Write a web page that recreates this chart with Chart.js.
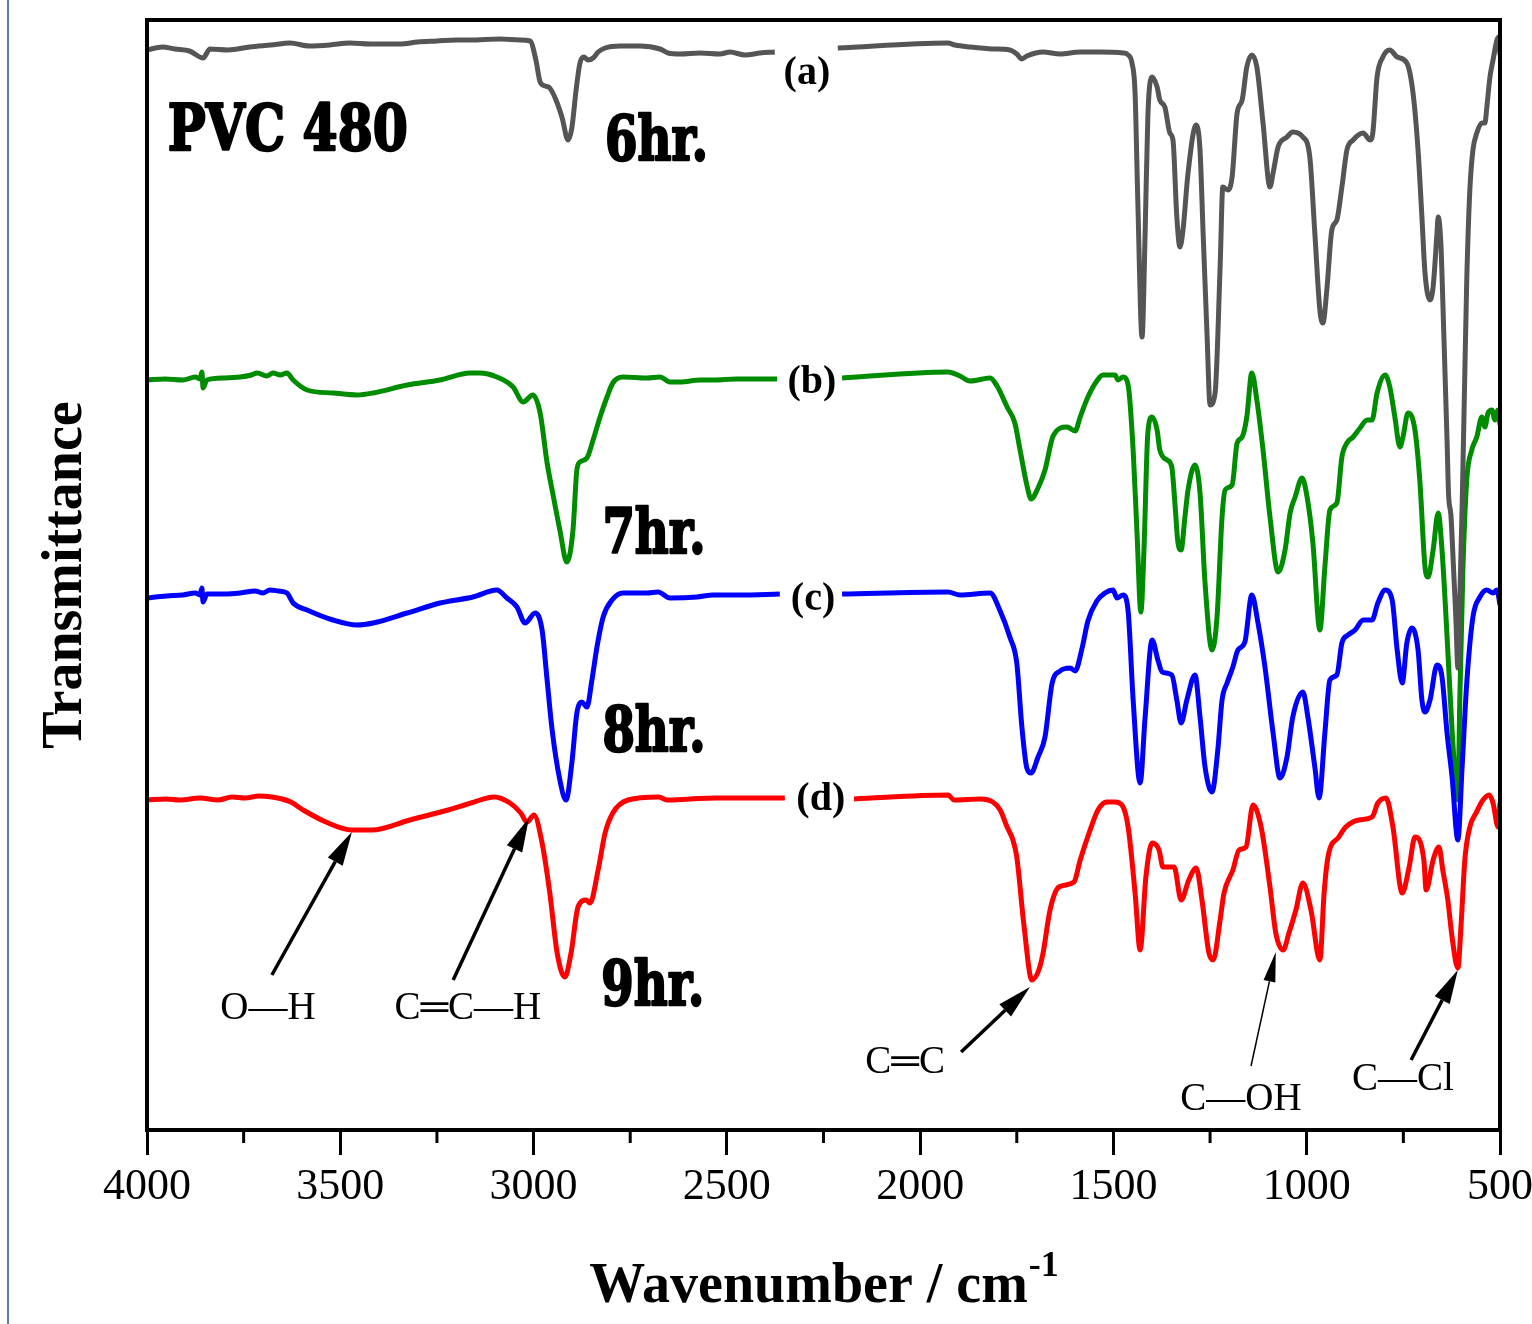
<!DOCTYPE html>
<html>
<head>
<meta charset="utf-8">
<title>PVC 480 FTIR</title>
<script src="https://cdn.jsdelivr.net/npm/chart.js@4.4.1/dist/chart.umd.min.js"></script>
<style>
    html, body
    {
        margin: 0;
        padding: 0;
        background: #ffffff;
    }

    #wrap
    {
        position: relative;
        width: 1532px;
        height: 1324px;
    }

    #edge
    {
        position: absolute;
        left: 7px;
        top: 0;
        width: 2px;
        height: 1324px;
        background: #5a7db3;
    }
</style>
</head>
<body>
<div id="wrap">
    <div id="edge"></div>
    <canvas id="ftir"></canvas>
</div>
<script>
// wavenumber (cm-1), transmittance (a.u., curves offset for display)
const spectrum6hr = [
    [4000,108.0],[3960,108.3],[3928,108.1],[3890,107.9],[3855,107.2],[3837,108.1],[3790,108.0],[3734,108.3],
    [3680,108.5],[3630,108.7],[3580,108.4],[3527,108.5],[3475,108.7],[3423,108.6],[3346,108.6],[3300,108.8],
    [3250,108.9],[3200,109.0],[3164,109.0],[3087,109.1],[3035,109.0],[3009,108.9],[2994,107.0],[2983,104.8],
    [2970,104.4],[2958,104.2],[2942,103.0],[2926,101.2],[2911,99.0],[2901,100.2],[2890,104.0],[2880,106.7],
    [2870,107.3],[2859,107.0],[2846,107.2],[2833,107.8],[2815,108.2],[2776,108.4],[2725,108.4],[2673,108.1],
    [2652,107.7],[2621,107.6],[2569,107.7],[2518,107.6],[2492,107.8],[2453,107.5],[2414,107.7],[2376,107.8],
    [2290,null],
    [2213,108.2],[1928,108.7],[1910,108.5],[1871,108.3],[1812,108.1],[1768,108.0],[1750,107.6],[1737,107.1],
    [1724,107.4],[1682,107.8],[1638,107.6],[1586,107.8],[1535,107.8],[1475,107.7],[1462,107.5],[1452,106.7],
    [1444,103.7],[1437,93.0],[1426,79.3],[1418,89.7],[1411,101.3],[1400,105.3],[1387,104.3],[1380,103.0],
    [1367,102.3],[1354,99.7],[1346,99.0],[1336,91.3],[1328,88.3],[1320,90.0],[1307,95.7],[1286,100.5],
    [1276,98.0],[1268,89.7],[1258,79.7],[1250,72.5],[1237,73.7],[1224,86.3],[1217,94.3],[1204,94.0],
    [1193,95.3],[1180,101.7],[1167,103.0],[1155,106.3],[1142,107.5],[1129,106.3],[1113,100.7],[1095,94.3],
    [1087,95.7],[1074,98.3],[1051,99.3],[1036,99.8],[1010,99.3],[992,97.3],[979,89.7],[966,82.0],
    [958,80.7],[948,84.0],[935,90.0],[922,91.0],[909,94.3],[896,98.0],[880,99.0],[854,99.7],
    [836,99.0],[829,99.7],[818,105.3],[803,107.3],[785,108.0],[766,107.3],[741,106.7],[725,103.7],
    [712,98.0],[702,91.3],[694,85.7],[681,83.0],[673,84.3],[663,89.7],[660,91.3],[653,88.7],
    [648,83.0],[637,69.0],[633,63.5],[627,61.5],[620,56.0],[614,51.0],[609,46.2],[604,53.0],
    [598,62.3],[591,75.7],[586,85.0],[578,94.0],[570,98.0],[560,99.7],[547,100.7],[539,100.7],
    [534,102.3],[526,105.3],[518,107.0],[508,109.0],[503,109.3],[500,107.5]
];

const spectrum7hr = [
    [4000,75.0],[3953,75.1],[3907,75.0],[3875,75.3],[3863,75.1],[3858,75.8],[3855,74.2],[3845,75.0],
    [3800,75.2],[3759,75.3],[3730,75.5],[3715,75.7],[3690,75.4],[3674,75.7],[3655,75.5],[3638,75.7],
    [3622,75.0],[3586,74.0],[3519,73.7],[3457,73.5],[3415,73.7],[3327,74.5],[3242,75.0],[3164,75.7],
    [3139,75.7],[3095,75.3],[3053,74.3],[3027,72.8],[3002,73.5],[2983,71.7],[2965,66.7],[2952,64.0],
    [2932,60.0],[2914,56.8],[2898,60.0],[2888,66.0],[2880,66.8],[2862,67.2],[2846,69.0],[2828,71.3],
    [2810,73.3],[2795,74.7],[2769,75.3],[2707,75.2],[2673,75.3],[2647,74.8],[2621,74.8],[2569,75.0],
    [2535,75.0],[2474,75.1],[2370,75.1],
    [2290,null],
    [2202,75.2],[1928,75.8],[1897,75.4],[1871,74.9],[1819,75.2],[1801,74.4],[1775,72.3],[1755,70.7],
    [1742,68.1],[1724,64.5],[1713,63.1],[1695,64.2],[1677,66.0],[1656,69.4],[1620,70.3],[1599,69.9],
    [1586,71.3],[1566,73.3],[1543,74.9],[1527,75.5],[1496,75.5],[1488,75.0],[1475,75.3],[1462,74.5],
    [1449,68.0],[1439,59.7],[1429,51.8],[1421,58.0],[1411,69.7],[1400,71.3],[1387,70.0],[1380,68.0],
    [1361,67.0],[1349,66.3],[1341,62.7],[1333,58.7],[1325,58.0],[1315,61.3],[1307,64.0],[1289,66.5],
    [1276,63.7],[1263,54.7],[1245,48.0],[1232,51.3],[1219,61.3],[1211,64.0],[1193,64.5],[1180,68.7],
    [1167,69.3],[1155,71.3],[1142,75.7],[1129,73.0],[1113,68.0],[1095,61.3],[1074,55.8],[1056,58.0],
    [1043,61.7],[1030,63.3],[1012,65.2],[999,63.3],[984,58.7],[966,50.0],[953,56.3],[940,62.0],
    [922,62.7],[909,67.3],[896,68.7],[880,69.3],[862,70.2],[844,71.0],[831,71.0],[818,73.7],
    [797,75.5],[785,74.3],[772,71.3],[759,68.3],[751,69.3],[738,71.7],[720,70.0],[707,64.7],
    [694,56.3],[686,55.3],[673,58.0],[660,61.7],[650,58.0],[637,49.4],[624,40.0],[609,33.0],
    [604,43.0],[596,56.0],[586,65.0],[573,68.0],[560,69.3],[547,71.3],[539,70.3],[531,71.7],
    [521,72.0],[513,71.0],[505,72.0],[500,70.5]
];

const spectrum8hr = [
    [4000,53.2],[3950,53.4],[3907,53.5],[3875,53.7],[3863,53.5],[3858,54.2],[3855,52.8],[3845,53.6],
    [3800,53.6],[3759,53.7],[3720,53.9],[3700,53.7],[3682,54.0],[3660,53.9],[3638,53.7],[3622,52.7],
    [3586,52.0],[3519,51.0],[3457,50.5],[3415,50.7],[3327,51.7],[3242,52.7],[3157,53.3],[3095,54.0],
    [3069,53.2],[3043,52.3],[3022,50.7],[2996,51.7],[2978,50.0],[2965,45.0],[2952,40.0],[2932,35.0],
    [2916,33.0],[2901,36.7],[2888,41.7],[2875,42.8],[2862,42.3],[2849,45.0],[2836,48.3],[2820,51.3],
    [2797,53.0],[2769,53.7],[2707,53.7],[2678,53.8],[2647,53.2],[2577,53.3],[2535,53.5],[2466,53.5],
    [2363,53.6],
    [2290,null],
    [2202,53.6],[1928,53.8],[1897,53.5],[1819,53.7],[1793,51.9],[1768,49.3],[1750,46.7],[1737,40.4],
    [1724,36.2],[1713,35.7],[1695,37.3],[1677,39.3],[1659,44.6],[1638,45.9],[1612,46.2],[1599,45.9],
    [1581,48.2],[1566,50.9],[1543,52.9],[1522,53.7],[1501,54.0],[1491,53.2],[1475,53.5],[1462,51.9],
    [1449,43.0],[1431,34.7],[1418,41.3],[1400,49.0],[1385,47.0],[1374,45.8],[1349,45.5],[1336,43.0],
    [1325,40.7],[1310,43.0],[1289,45.5],[1276,41.3],[1263,36.3],[1245,33.8],[1230,38.0],[1219,43.0],
    [1206,44.7],[1191,46.3],[1178,48.0],[1160,48.8],[1142,53.5],[1126,50.7],[1108,46.3],[1087,39.7],
    [1069,35.2],[1051,37.3],[1036,41.3],[1010,43.8],[997,41.3],[979,36.3],[968,33.2],[953,39.7],
    [940,45.0],[922,45.5],[909,48.7],[893,49.5],[875,50.0],[854,51.0],[831,51.0],[816,52.7],
    [797,54.0],[779,53.0],[766,48.0],[753,44.7],[741,48.7],[728,50.2],[712,48.0],[702,43.0],
    [694,41.8],[681,43.0],[663,46.5],[650,45.3],[637,39.7],[624,35.3],[609,29.0],[598,36.3],
    [586,44.7],[570,51.3],[552,53.3],[534,54.0],[518,53.7],[508,54.0],[500,52.5]
];

const spectrum9hr = [
    [4000,33.0],[3950,33.1],[3915,33.0],[3863,33.2],[3816,33.0],[3780,33.3],[3746,33.2],[3710,33.4],
    [3677,33.3],[3650,33.1],[3628,32.8],[3596,32.0],[3537,30.8],[3470,30.0],[3418,30.0],[3320,31.0],
    [3221,32.0],[3162,32.7],[3102,33.3],[3061,32.7],[3033,31.7],[3017,30.8],[2999,31.5],[2978,28.7],
    [2958,23.7],[2939,17.7],[2919,15.3],[2903,17.7],[2885,22.3],[2864,23.0],[2854,22.7],[2833,26.0],
    [2815,29.7],[2795,31.7],[2756,33.0],[2676,33.3],[2655,33.0],[2595,33.1],[2528,33.2],[2440,33.2],
    [2350,33.2],
    [2290,null],
    [2171,33.1],[1928,33.5],[1912,33.0],[1845,33.1],[1812,32.8],[1793,32.0],[1775,30.3],[1760,29.0],
    [1750,27.3],[1731,20.3],[1711,15.0],[1693,16.0],[1682,17.7],[1664,22.0],[1641,24.3],[1602,24.8],
    [1586,27.0],[1563,29.7],[1540,32.0],[1517,32.8],[1496,32.8],[1478,32.5],[1462,30.3],[1444,23.7],
    [1431,18.0],[1416,25.3],[1400,28.7],[1382,28.0],[1372,26.3],[1343,26.3],[1325,23.0],[1305,25.0],
    [1286,26.2],[1271,23.0],[1253,17.7],[1242,17.0],[1224,21.0],[1214,23.7],[1191,26.0],[1175,28.0],
    [1157,28.3],[1139,32.5],[1118,30.3],[1095,24.3],[1080,19.7],[1061,18.0],[1046,19.7],[1028,22.0],
    [1010,24.7],[989,22.0],[966,17.0],[955,23.7],[945,27.3],[917,29.3],[899,30.3],[865,31.0],
    [831,31.3],[816,32.7],[795,33.2],[777,30.3],[753,23.7],[735,26.3],[720,29.3],[697,27.0],
    [691,24.0],[673,27.0],[658,28.3],[648,26.0],[635,23.0],[624,19.3],[609,16.2],[601,20.3],
    [591,27.0],[578,30.3],[562,31.7],[544,33.0],[528,33.5],[518,32.7],[505,30.3],[500,32.7]
];

const seriesTags = ['(a)', '(b)', '(c)', '(d)'];
const seriesTagAt = [[2293, 104.6], [2280, 73.7], [2277, 52.0], [2257, 32.0]];
const hourLabels = ['6hr.', '7hr.', '8hr.', '9hr.'];
const hourLabelAt = [[2815, 97.0], [2822, 57.7], [2822, 37.9], [2825, 12.5]];

const bandLabels = ['O\u2014H', 'C\u2550C\u2014H', 'C\u2550C', 'C\u2014OH', 'C\u2014Cl'];
const bandLabelAt = [[3687, 11.1], [3170, 11.1], [2039, 5.7], [1170, 2.0], [751, 4.0]];
const arrowFrom = [[3677, 15.5], [3208, 15.0], [1894, 7.8], [1144, 6.4], [730, 7.0]];
const arrowTo = [[3470, 29.8], [3012, 31.2], [1716, 14.3], [1080, 17.8], [609, 16.0]];
const arrowThin = [false, false, false, true, false];

const minorTicks = [3750, 3250, 2750, 2250, 1750, 1250, 750];

const SERIF = '"Liberation Serif", "Times New Roman", serif';
const SLAB = '"DejaVu Serif", serif';

function toPoints(spectrum)
{
    return spectrum.map(p => ({ x: p[0], y: p[1] }));
}

// heavy slab text squeezed to the width it has in the figure
function fitText(ctx, text, x, y, font, width)
{
    ctx.save();
    ctx.font = font;
    const w = ctx.measureText(text).width;
    ctx.translate(x, y);
    ctx.scale(width / w, 1);
    ctx.textAlign = 'left';
    ctx.textBaseline = 'alphabetic';
    ctx.lineWidth = 2.5;
    ctx.lineJoin = 'round';
    ctx.strokeText(text, 0, 0);
    ctx.fillText(text, 0, 0);
    ctx.restore();
}

function drawArrow(ctx, x0, y0, x1, y1, thin)
{
    const lw = thin ? 1.5 : 3.5;
    const headLen = thin ? 30 : 34;
    const headHalf = thin ? 6 : 8.5;
    const ang = Math.atan2(y1 - y0, x1 - x0);
    const bx = x1 - headLen * Math.cos(ang);
    const by = y1 - headLen * Math.sin(ang);

    ctx.lineWidth = lw;
    ctx.beginPath();
    ctx.moveTo(x0, y0);
    ctx.lineTo(bx, by);
    ctx.stroke();

    ctx.beginPath();
    ctx.moveTo(x1, y1);
    ctx.lineTo(bx + headHalf * Math.sin(ang), by - headHalf * Math.cos(ang));
    ctx.lineTo(bx - headHalf * Math.sin(ang), by + headHalf * Math.cos(ang));
    ctx.closePath();
    ctx.fill();
}

const decorations =
{
    id: 'decorations',
    afterDraw(chart)
    {
        const ctx = chart.ctx;
        const area = chart.chartArea;
        const xs = chart.scales.x;
        const ys = chart.scales.y;

        ctx.save();
        ctx.fillStyle = '#000000';
        ctx.strokeStyle = '#000000';

        // frame
        ctx.lineWidth = 4;
        ctx.strokeRect(area.left, area.top, area.right - area.left, area.bottom - area.top);

        // minor ticks
        ctx.lineWidth = 3;
        for (const w of minorTicks)
        {
            const px = xs.getPixelForValue(w);
            ctx.beginPath();
            ctx.moveTo(px, area.bottom);
            ctx.lineTo(px, area.bottom + 13);
            ctx.stroke();
        }

        // sample name and hour labels
        fitText(ctx, 'PVC 480', xs.getPixelForValue(3946), ys.getPixelForValue(98.0), 'bold 64px ' + SLAB, 240);
        for (let i = 0; i < hourLabels.length; i++)
        {
            const at = hourLabelAt[i];
            fitText(ctx, hourLabels[i], xs.getPixelForValue(at[0]), ys.getPixelForValue(at[1]), 'bold 62px ' + SLAB, 103);
        }

        // series tags
        ctx.font = 'bold 40px ' + SERIF;
        ctx.textAlign = 'center';
        ctx.textBaseline = 'alphabetic';
        for (let i = 0; i < seriesTags.length; i++)
        {
            const at = seriesTagAt[i];
            ctx.fillText(seriesTags[i], xs.getPixelForValue(at[0]), ys.getPixelForValue(at[1]));
        }

        // band assignments
        ctx.font = '39px ' + SERIF;
        for (let i = 0; i < bandLabels.length; i++)
        {
            const at = bandLabelAt[i];
            ctx.fillText(bandLabels[i], xs.getPixelForValue(at[0]), ys.getPixelForValue(at[1]));
            drawArrow(ctx,
                xs.getPixelForValue(arrowFrom[i][0]), ys.getPixelForValue(arrowFrom[i][1]),
                xs.getPixelForValue(arrowTo[i][0]), ys.getPixelForValue(arrowTo[i][1]),
                arrowThin[i]);
        }

        // y title
        ctx.save();
        ctx.translate(81, (area.top + area.bottom) / 2);
        ctx.rotate(-Math.PI / 2);
        ctx.font = 'bold 56px ' + SERIF;
        ctx.textAlign = 'center';
        ctx.fillText('Transmittance', 0, 0);
        ctx.restore();

        // x title with superscript
        const main = 'Wavenumber / cm';
        const sup = '-1';
        ctx.font = 'bold 56px ' + SERIF;
        const mw = ctx.measureText(main).width;
        ctx.font = 'bold 36px ' + SERIF;
        const sw = ctx.measureText(sup).width;
        const left = (area.left + area.right) / 2 - (mw + sw) / 2;
        ctx.textAlign = 'left';
        ctx.font = 'bold 56px ' + SERIF;
        ctx.fillText(main, left, 1302);
        ctx.font = 'bold 36px ' + SERIF;
        ctx.fillText(sup, left + mw + 1, 1276);

        ctx.restore();
    }
};

const lineStyle =
{
    pointRadius: 0,
    borderWidth: 5,
    fill: false,
    cubicInterpolationMode: 'monotone',
    spanGaps: false
};

const config =
{
    type: 'line',
    data:
    {
        datasets:
        [
            Object.assign({ label: '6hr.', data: toPoints(spectrum6hr), borderColor: '#555555', order: 2 }, lineStyle),
            Object.assign({ label: '7hr.', data: toPoints(spectrum7hr), borderColor: '#008c00', order: 3 }, lineStyle),
            Object.assign({ label: '8hr.', data: toPoints(spectrum8hr), borderColor: '#0000ff', order: 1 }, lineStyle),
            Object.assign({ label: '9hr.', data: toPoints(spectrum9hr), borderColor: '#ff0000', order: 4 }, lineStyle)
        ]
    },
    options:
    {
        responsive: true,
        maintainAspectRatio: false,
        animation: false,
        layout:
        {
            padding: { top: 20, right: 32, left: 0, bottom: 0 }
        },
        plugins:
        {
            legend: { display: false },
            tooltip: { enabled: false }
        },
        scales:
        {
            x:
            {
                type: 'linear',
                reverse: true,
                min: 500,
                max: 4000,
                afterFit: (scale) =>
                {
                    scale.height = 194;
                    scale.paddingLeft = 0;
                    scale.paddingRight = 0;
                },
                ticks:
                {
                    stepSize: 500,
                    autoSkip: false,
                    maxRotation: 0,
                    padding: 6,
                    color: '#000000',
                    font: { family: SERIF, size: 44 },
                    callback: (value) => String(value)
                },
                grid:
                {
                    drawOnChartArea: false,
                    drawTicks: true,
                    tickLength: 25,
                    tickWidth: 3,
                    color: '#000000'
                },
                border: { display: false }
            },
            y:
            {
                min: 0,
                max: 111,
                afterFit: (scale) =>
                {
                    scale.width = 147;
                    scale.paddingTop = 0;
                    scale.paddingBottom = 0;
                },
                ticks: { display: false },
                grid: { display: false },
                border: { display: false }
            }
        }
    },
    plugins: [decorations]
};

new Chart(document.getElementById('ftir').getContext('2d'), config);
</script>
</body>
</html>
